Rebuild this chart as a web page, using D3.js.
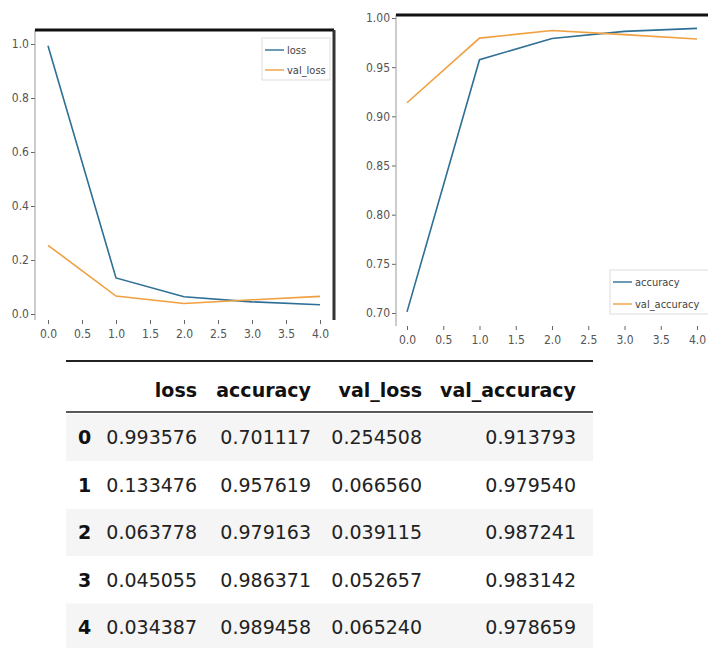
<!DOCTYPE html>
<html>
<head>
<meta charset="utf-8">
<script src="https://cdn.jsdelivr.net/npm/d3@7"></script>
<style>
  body { margin: 0; background: #fff; }
  svg { display: block; }
  .tick text { font-family: "Liberation Sans Narrow", "DejaVu Sans Condensed", sans-serif; fill: #555; }
  .tick line { stroke: #666; }
</style>
</head>
<body>
<div id="chart"></div>
<script>
// training history values
var epochs = [0, 1, 2, 3, 4];
var loss = [0.993576, 0.133476, 0.063778, 0.045055, 0.034387];
var accuracy = [0.701117, 0.957619, 0.979163, 0.986371, 0.989458];
var valLoss = [0.254508, 0.066560, 0.039115, 0.052657, 0.065240];
var valAccuracy = [0.913793, 0.979540, 0.987241, 0.983142, 0.978659];

var columns = ["loss", "accuracy", "val_loss", "val_accuracy"];
var lossTicks = [0, 0.2, 0.4, 0.6, 0.8, 1.0];
var accTicks = [0.70, 0.75, 0.80, 0.85, 0.90, 0.95, 1.00];
var xTicks = [0, 0.5, 1, 1.5, 2, 2.5, 3, 3.5, 4];

var blue = "#2f6f95", orange = "#f0a040";

var svg = d3.select("#chart").append("svg")
    .attr("width", 708)
    .attr("height", 648);

// draw one small line chart
function lineChart(opt) {
    var g = svg.append("g");
    var x = d3.scaleLinear().domain([0, 4]).range(opt.xr);
    var y = d3.scaleLinear().domain(opt.yd).range(opt.yr);

    // y axis
    var ya = g.append("g")
        .attr("transform", "translate(" + opt.left + ",0)")
        .call(d3.axisLeft(y).tickValues(opt.yTicks).tickFormat(d3.format(opt.yFmt)).tickSize(4).tickPadding(2));
    ya.select(".domain").remove();
    ya.selectAll("text").style("font-size", "12px");

    // x axis
    var xa = g.append("g")
        .attr("transform", "translate(0," + opt.bottom + ")")
        .call(d3.axisBottom(x).tickValues(xTicks).tickFormat(d3.format(".1f")).tickSize(4).tickPadding(5));
    xa.select(".domain").remove();
    xa.selectAll("text").style("font-size", "12px");

    // spines
    g.append("line")
        .attr("x1", opt.left).attr("x2", opt.left)
        .attr("y1", opt.top).attr("y2", opt.bottom)
        .attr("stroke", "#999").attr("stroke-width", 1);
    g.append("line")
        .attr("x1", opt.left).attr("x2", opt.right)
        .attr("y1", opt.top).attr("y2", opt.top)
        .attr("stroke", "#111").attr("stroke-width", 3);
    if (opt.rightSpine) {
        g.append("line")
            .attr("x1", opt.right).attr("x2", opt.right)
            .attr("y1", opt.top).attr("y2", opt.bottom)
            .attr("stroke", "#333").attr("stroke-width", 3);
    }

    var line = d3.line()
        .x(function (d, i) { return x(epochs[i]); })
        .y(function (d) { return y(d); });

    opt.series.forEach(function (s) {
        g.append("path")
            .datum(s.values)
            .attr("fill", "none")
            .attr("stroke", s.color)
            .attr("stroke-width", 1.6)
            .attr("d", line);
    });

    // legend
    var lg = g.append("g").attr("transform", "translate(" + opt.legend[0] + "," + opt.legend[1] + ")");
    lg.append("rect")
        .attr("width", opt.legend[2]).attr("height", opt.legend[3])
        .attr("fill", "#fff").attr("stroke", "#ddd");
    opt.series.forEach(function (s, i) {
        var yy = 12 + i * opt.legend[4];
        lg.append("line")
            .attr("x1", 3).attr("x2", 22)
            .attr("y1", yy).attr("y2", yy)
            .attr("stroke", s.color).attr("stroke-width", 1.4);
        lg.append("text")
            .attr("x", 25).attr("y", yy)
            .attr("dy", "0.35em")
            .style("font-family", "'Liberation Sans Narrow', 'DejaVu Sans Condensed', sans-serif")
            .style("font-size", "11px")
            .style("fill", "#444")
            .text(s.name);
    });
}

lineChart({
    xr: [48, 320], yd: [0, 1], yr: [314, 44],
    left: 35, right: 334, top: 30, bottom: 320,
    rightSpine: true,
    yTicks: lossTicks, yFmt: ".1f",
    series: [{ name: "loss", values: loss, color: blue }, { name: "val_loss", values: valLoss, color: orange }],
    legend: [262, 38, 68, 42, 20]
});

lineChart({
    xr: [407, 697], yd: [0.70, 1.00], yr: [313, 18],
    left: 396, right: 708, top: 15, bottom: 326,
    rightSpine: false,
    yTicks: accTicks, yFmt: ".2f",
    series: [{ name: "accuracy", values: accuracy, color: blue }, { name: "val_accuracy", values: valAccuracy, color: orange }],
    legend: [610, 270, 100, 44, 22]
});

// ---- table ----
var tableData = epochs.map(function (e, i) {
    return { idx: e, loss: loss[i], accuracy: accuracy[i], val_loss: valLoss[i], val_accuracy: valAccuracy[i] };
});
var colRight = [197, 311, 422, 576];
var tLeft = 66, tRight = 593;
var rowY = d3.scaleBand().domain(epochs).range([414, 651]);
var fmt = d3.format(".6f");
var tg = svg.append("g")
    .style("font-family", "'DejaVu Sans', sans-serif")
    .style("font-size", "19px");

tg.selectAll("rect.row")
    .data(tableData)
    .enter().append("rect")
    .attr("class", "row")
    .attr("x", tLeft).attr("width", tRight - tLeft)
    .attr("y", function (d) { return rowY(d.idx); })
    .attr("height", rowY.bandwidth())
    .attr("fill", function (d, i) { return i % 2 === 0 ? "#f5f5f5" : "#fff"; });

tg.append("line")
    .attr("x1", tLeft).attr("x2", tRight).attr("y1", 361).attr("y2", 361)
    .attr("stroke", "#222").attr("stroke-width", 2);
tg.append("line")
    .attr("x1", tLeft).attr("x2", tRight).attr("y1", 412).attr("y2", 412)
    .attr("stroke", "#222").attr("stroke-width", 1.5);

tg.selectAll("text.head")
    .data(columns)
    .enter().append("text")
    .attr("x", function (d, i) { return colRight[i]; })
    .attr("y", 390)
    .attr("dy", "0.35em")
    .attr("text-anchor", "end")
    .style("font-weight", "bold")
    .style("fill", "#111")
    .text(function (d) { return d; });

tableData.forEach(function (r) {
    var cy = rowY(r.idx) + rowY.bandwidth() / 2;
    tg.append("text")
        .attr("x", 78).attr("y", cy).attr("dy", "0.35em")
        .style("font-weight", "bold").style("fill", "#111")
        .text(r.idx);
    columns.forEach(function (c, j) {
        tg.append("text")
            .attr("x", colRight[j]).attr("y", cy).attr("dy", "0.35em")
            .attr("text-anchor", "end")
            .style("fill", "#222")
            .text(fmt(r[c]));
    });
});
</script>
</body>
</html>
